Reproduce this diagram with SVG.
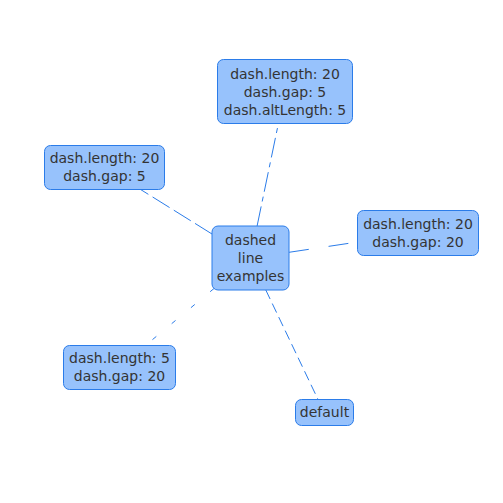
<svg xmlns="http://www.w3.org/2000/svg" width="503" height="503" viewBox="0 0 503 503">
<style>
.n rect{fill:#97C2FC;stroke:#2B7CE9;stroke-width:1}
.n text{font-family:"DejaVu Sans",Verdana,sans-serif;font-size:14px;fill:#343434;text-anchor:middle}
.e line{stroke:#2B7CE9;stroke-width:1;fill:none}
</style>
<rect width="503" height="503" fill="#fff"/>
<g id="edges" class="e">
<line x1="257.1" y1="226" x2="278.3" y2="124" stroke-dasharray="20 5 5 5"/>
<line x1="212" y1="234" x2="139.8" y2="189" stroke-dasharray="20 5"/>
<line x1="289" y1="252.3" x2="357" y2="242.1" stroke-dasharray="20 20"/>
<line x1="214" y1="288.5" x2="146" y2="345" stroke-dasharray="5 20"/>
<line x1="265.8" y1="290" x2="317.8" y2="399" stroke-dasharray="10 5"/>
</g>
<g id="center" class="n"><rect x="212" y="226" width="77" height="64" rx="6"/><text x="250.5" y="245">dashed</text><text x="250.5" y="263">line</text><text x="250.5" y="281">examples</text></g>
<g id="top" class="n"><rect x="217.5" y="59.5" width="135" height="64" rx="6"/><text x="285" y="78.5">dash.length: 20</text><text x="285" y="96.5">dash.gap: 5</text><text x="285" y="114.5">dash.altLength: 5</text></g>
<g id="left" class="n"><rect x="44.5" y="145.5" width="120" height="44" rx="6"/><text x="104.5" y="163">dash.length: 20</text><text x="104.5" y="181">dash.gap: 5</text></g>
<g id="right" class="n"><rect x="357.5" y="210.5" width="121" height="45" rx="6"/><text x="418" y="229">dash.length: 20</text><text x="418" y="247">dash.gap: 20</text></g>
<g id="bottomleft" class="n"><rect x="63.5" y="345.5" width="112" height="44" rx="6"/><text x="119.5" y="363">dash.length: 5</text><text x="119.5" y="381">dash.gap: 20</text></g>
<g id="default" class="n"><rect x="295.5" y="399.5" width="58" height="26" rx="6"/><text x="324.5" y="417">default</text></g>
</svg>
